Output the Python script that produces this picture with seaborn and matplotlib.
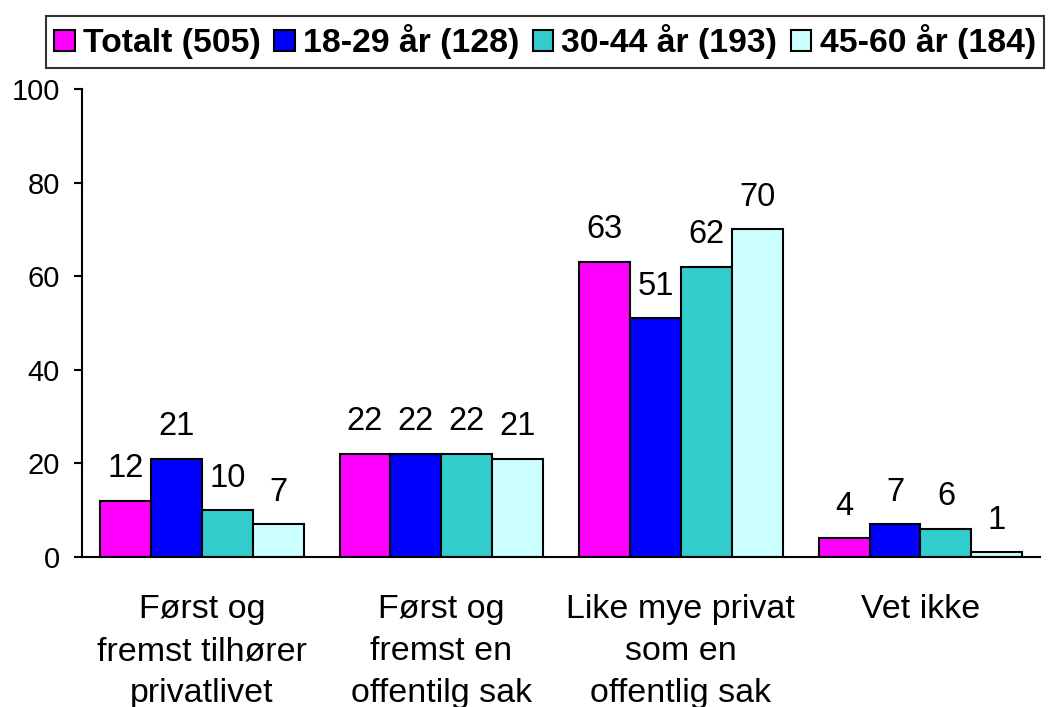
import matplotlib.pyplot as plt
import seaborn as sns
import pandas as pd

sns.set_theme(style="white")
plt.rcParams["font.family"] = ["Liberation Sans", "DejaVu Sans"]
plt.rcParams["text.color"] = "black"
plt.rcParams["xtick.color"] = "black"
plt.rcParams["ytick.color"] = "black"

categories = [
    "Først og\nfremst tilhører\nprivatlivet",
    "Først og\nfremst en\noffentilg sak",
    "Like mye privat\nsom en\noffentlig sak",
    "Vet ikke",
]
groups = ["Totalt (505)", "18-29 år (128)", "30-44 år (193)", "45-60 år (184)"]
totalt = [12, 22, 63, 4]
age_18_29 = [21, 22, 51, 7]
age_30_44 = [10, 22, 62, 6]
age_45_60 = [7, 21, 70, 1]
colors = ["#FF00FF", "#0000FF", "#33CCCC", "#CCFFFF"]

rows = []
for g, vals in zip(groups, [totalt, age_18_29, age_30_44, age_45_60]):
    for c, v in zip(categories, vals):
        rows.append({"kategori": c, "gruppe": g, "prosent": v})
df = pd.DataFrame(rows)

fig = plt.figure(figsize=(10.55, 7.07), dpi=100)
ax = fig.add_axes([0.0777, 0.2122, 0.9083, 0.6619])

sns.barplot(data=df, x="kategori", y="prosent", hue="gruppe", order=categories,
            hue_order=groups, palette=colors, width=0.85, gap=0,
            edgecolor="black", linewidth=1.5, saturation=1, ax=ax)

for cont in ax.containers:
    ax.bar_label(cont, fmt="%d", padding=12, fontsize=23.5, color="black")

ax.set_ylim(0, 100)
ax.set_xlim(-0.5, 3.5)
ax.set_yticks(range(0, 101, 20))
ax.set_xlabel("")
ax.set_ylabel("")
ax.tick_params(axis="y", left=True, length=6, width=1.5, direction="out",
               labelsize=21, pad=10, color="black", labelcolor="black")
ax.tick_params(axis="x", bottom=False, labelsize=24.5, pad=21, labelcolor="black")
for lab in ax.get_xticklabels():
    lab.set_linespacing(1.45)
sns.despine(ax=ax)
for s in ["left", "bottom"]:
    ax.spines[s].set_color("black")
    ax.spines[s].set_linewidth(1.5)

handles, labels = ax.get_legend_handles_labels()
ax.get_legend().remove()
leg = fig.legend(handles, labels, loc="center", bbox_to_anchor=(0.5166, 0.941),
                 ncol=4, frameon=True, fancybox=False, edgecolor="black",
                 prop={"weight": "bold", "size": 24.3}, handlelength=0.6,
                 handleheight=0.6, handletextpad=0.25, columnspacing=0.4,
                 borderpad=0.25, borderaxespad=0, labelcolor="black")
leg.get_frame().set_linewidth(1.5)

fig.savefig("out.png", dpi=100)
